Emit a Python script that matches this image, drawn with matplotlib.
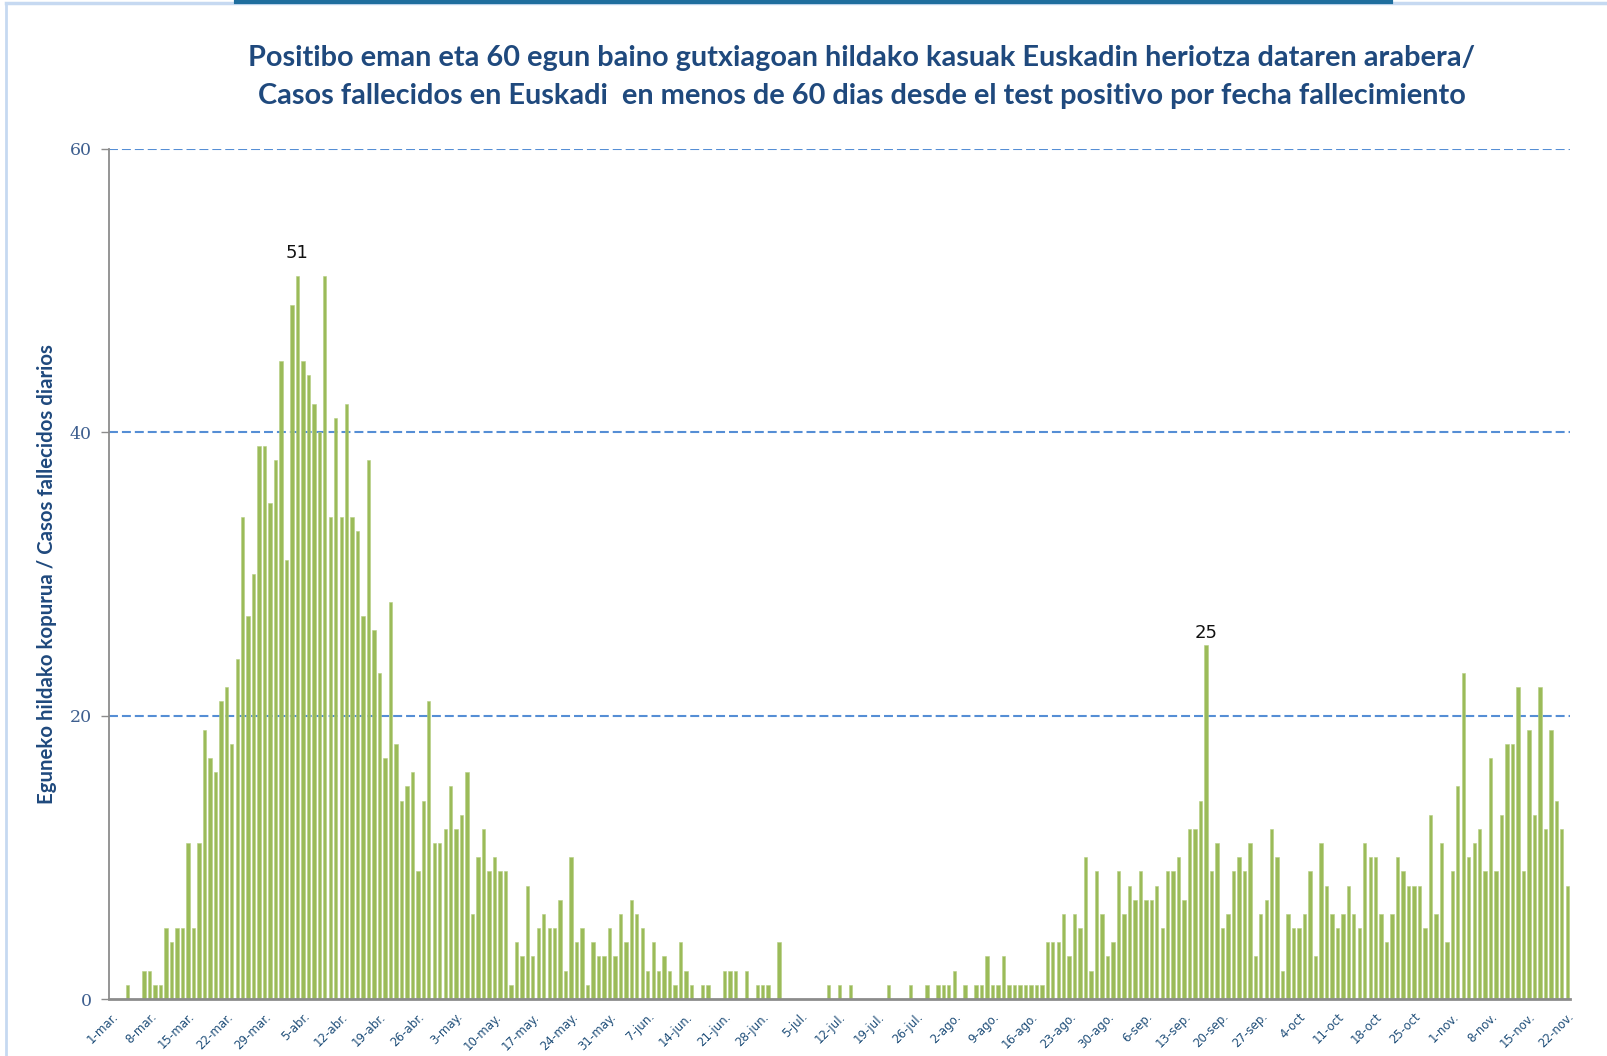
import matplotlib
matplotlib.use("Agg")
import matplotlib.pyplot as plt
from matplotlib.lines import Line2D
import numpy as np

# ---- data: daily deaths, 1 Mar 2020 .. 22 Nov 2020 ----
march = [0, 0, 0, 1, 0, 0, 2, 2, 1, 1, 5, 4, 5, 5, 11, 5, 11, 19, 17, 16,
         21, 22, 18, 24, 34, 27, 30, 39, 39, 35, 38]
april = [45, 31, 49, 51, 45, 44, 42, 40, 51, 34, 41, 34, 42, 34, 33, 27, 38, 26, 23, 17,
         28, 18, 14, 15, 16, 9, 14, 21, 11, 11]
may = [12, 15, 12, 13, 16, 6, 10, 12, 9, 10, 9, 9, 1, 4, 3, 8, 3, 5, 6, 5,
       5, 7, 2, 10, 4, 5, 1, 4, 3, 3, 5]
june = [3, 6, 4, 7, 6, 5, 2, 4, 2, 3, 2, 1, 4, 2, 1, 0, 1, 1, 0, 0,
        2, 2, 2, 0, 2, 0, 1, 1, 1, 0]
july = [4, 0, 0, 0, 0, 0, 0, 0, 0, 1, 0, 1, 0, 1, 0, 0, 0, 0, 0, 0,
        1, 0, 0, 0, 1, 0, 0, 1, 0, 1, 1]
august = [1, 2, 0, 1, 0, 1, 1, 3, 1, 1, 3, 1, 1, 1, 1, 1, 1, 1, 4, 4,
          4, 6, 3, 6, 5, 10, 2, 9, 6, 3, 4]
september = [9, 6, 8, 7, 9, 7, 7, 8, 5, 9, 9, 10, 7, 12, 12, 14, 25, 9, 11, 5,
             6, 9, 10, 9, 11, 3, 6, 7, 12, 10]
october = [2, 6, 5, 5, 6, 9, 3, 11, 8, 6, 5, 6, 8, 6, 5, 11, 10, 10, 6, 4,
           6, 10, 9, 8, 8, 8, 5, 13, 6, 11, 4]
november = [9, 15, 23, 10, 11, 12, 9, 17, 9, 13, 18, 18, 22, 9, 19, 13, 22, 12, 19, 14,
            12, 8]

values = march + april + may + june + july + august + september + october + november

tick_labels = ["1-mar.", "8-mar.", "15-mar.", "22-mar.", "29-mar.", "5-abr.", "12-abr.",
               "19-abr.", "26-abr.", "3-may.", "10-may.", "17-may.", "24-may.", "31-may.",
               "7-jun.", "14-jun.", "21-jun.", "28-jun.", "5-jul.", "12-jul.", "19-jul.",
               "26-jul.", "2-ago.", "9-ago.", "16-ago.", "23-ago.", "30-ago.", "6-sep.",
               "13-sep.", "20-sep.", "27-sep.", "4-oct", "11-oct", "18-oct", "25-oct",
               "1-nov.", "8-nov.", "15-nov.", "22-nov."]

annotated_idx = [34, 200]  # days whose value is written above the bar
annot_offset_pt = [10, 2]

title1 = "Positibo eman eta 60 egun baino gutxiagoan hildako kasuak Euskadin heriotza dataren arabera/"
title2 = "Casos fallecidos en Euskadi  en menos de 60 dias desde el test positivo por fecha fallecimiento"
ylabel = "Eguneko hildako kopurua / Casos fallecidos diarios"

# ---- figure ----
W, H = 1607, 1056
fig = plt.figure(figsize=(W / 100, H / 100), dpi=100)
fig.patch.set_facecolor("white")

title_color = "#1F497D"
tick_color = "#3E5F8F"

ax = fig.add_axes([108.6 / W, 1 - 999 / H, (1570 - 108.6) / W, (999 - 148.6) / H])
x = np.arange(len(values))
ax.bar(x, values, width=0.62, color="#9BBB59", edgecolor="#B5CF82", linewidth=0.4, zorder=3)

ax.set_xlim(-0.5, len(values) - 0.5)
ax.set_ylim(0, 60)

for yv in (20, 40, 60):
    ax.axhline(yv, color="#558ED5", linewidth=1.5, linestyle=(0, (4.3, 1.9)), zorder=1)

ax.set_yticks([0, 20, 40, 60])
ax.set_yticklabels(["0", "20", "40", "60"], fontsize=12.5, color=tick_color,
                   family=["DejaVu Serif"])
ax.tick_params(axis="y", length=6, width=1, color="#8C8C8C", pad=6)

ax.set_xticks(np.arange(0, len(values), 7))
ax.set_xticklabels(tick_labels, rotation=45, ha="right", va="top", rotation_mode="anchor",
                   fontsize=8.5, color="#1F4E79",
                   family=["Liberation Sans Narrow", "DejaVu Sans"])
ax.tick_params(axis="x", length=0, pad=8)

for s in ("top", "right"):
    ax.spines[s].set_visible(False)
ax.spines["left"].set_color("#8C8C8C")
ax.spines["left"].set_linewidth(1.3)
ax.spines["bottom"].set_color("#8C8C8C")
ax.spines["bottom"].set_linewidth(2.0)
ax.spines["bottom"].set_zorder(4)

for idx, off in zip(annotated_idx, annot_offset_pt):
    ax.annotate(str(values[idx]), (idx, values[idx]), xytext=(0, off), textcoords="offset points",
                ha="center", va="bottom", fontsize=13, color="#111111")

# titles
fig.text(862 / W, 1 - 66 / H, title1, ha="center", va="baseline", fontsize=20.8,
         fontweight="bold", color=title_color, family=["Lato", "DejaVu Sans"])
fig.text(862 / W, 1 - 104 / H, title2, ha="center", va="baseline", fontsize=20.8,
         fontweight="bold", color=title_color, family=["Lato", "DejaVu Sans"])

fig.text(47 / W, 1 - 574 / H, ylabel, rotation=90, ha="center", va="center",
         fontsize=14.7, fontweight="bold", color=title_color, family=["Lato", "DejaVu Sans"])

# frame decorations
fig.add_artist(Line2D([6 / W, 6 / W], [0, 1 - 5 / H], transform=fig.transFigure,
                      color="#C6D9F1", linewidth=2))
fig.add_artist(Line2D([6 / W, 1], [1 - 3 / H, 1 - 3 / H], transform=fig.transFigure,
                      color="#C6D9F1", linewidth=2.5))
fig.add_artist(Line2D([236 / W, 1391 / W], [1 - 1.5 / H, 1 - 1.5 / H], transform=fig.transFigure,
                      color="#1F6E9E", linewidth=3))

fig.savefig("out.png", dpi=100, facecolor="white")
